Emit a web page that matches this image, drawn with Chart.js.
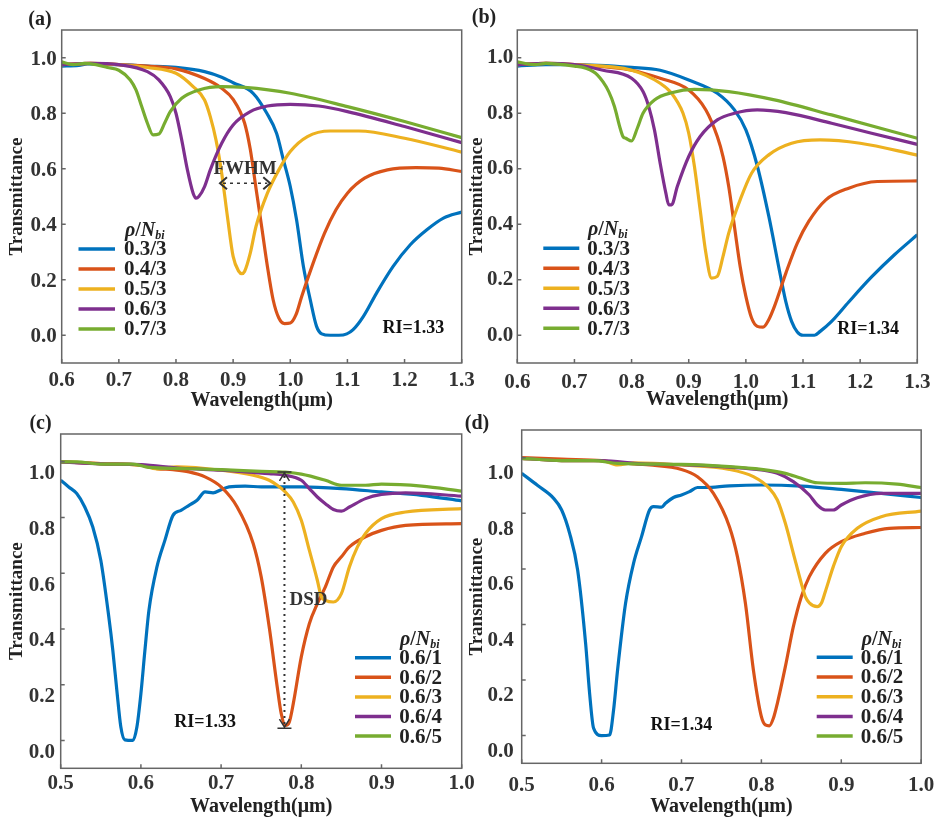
<!DOCTYPE html>
<html>
<head>
<meta charset="utf-8">
<script src="https://cdn.jsdelivr.net/npm/chart.js@4.4.0/dist/chart.umd.min.js"></script>
<style>
  html, body { margin: 0; padding: 0; background: #fff; }
  #wrap { position: relative; width: 944px; height: 824px; }
  #wrap canvas { position: absolute; left: 0; top: 0; }
</style>
</head>
<body>
<div id="wrap">
  <canvas id="chartA" width="944" height="824"></canvas>
  <canvas id="chartB" width="944" height="824"></canvas>
  <canvas id="chartC" width="944" height="824"></canvas>
  <canvas id="chartD" width="944" height="824"></canvas>
</div>
<script>
// ---- tick labels ----
const yTicks = [0.0, 0.2, 0.4, 0.6, 0.8, 1.0]
const xTicksTop = [0.6, 0.7, 0.8, 0.9, 1.0, 1.1, 1.2, 1.3]
const xTicksBottom = [0.5, 0.6, 0.7, 0.8, 0.9, 1.0]

// ---- series names ----
const labelsTop = ['0.3/3', '0.4/3', '0.5/3', '0.6/3', '0.7/3']
const labelsBottom = ['0.6/1', '0.6/2', '0.6/3', '0.6/4', '0.6/5']
const colors = ['#0072BD', '#D95319', '#EDB120', '#7E2F8E', '#77AC30']

// ---- (a) RI = 1.33 ----
const aBlueX = [0.60, 0.63, 0.645, 0.70, 0.75, 0.80, 0.85, 0.88, 0.90, 0.935, 0.959, 0.976, 0.988, 1.00, 1.011, 1.023, 1.035, 1.046, 1.055, 1.07, 1.085, 1.099, 1.11, 1.128, 1.151, 1.18, 1.21, 1.239, 1.268, 1.30]
const aBlueY = [0.97, 0.972, 0.978, 0.975, 0.97, 0.965, 0.95, 0.93, 0.91, 0.872, 0.80, 0.728, 0.632, 0.536, 0.416, 0.248, 0.128, 0.032, 0.005, 0.0, 0.0, 0.005, 0.02, 0.068, 0.152, 0.248, 0.326, 0.38, 0.422, 0.444]
const aOrangeX = [0.60, 0.65, 0.70, 0.75, 0.80, 0.85, 0.88, 0.90, 0.92, 0.93, 0.94, 0.95, 0.96, 0.97, 0.98, 0.99, 1.00, 1.01, 1.02, 1.04, 1.06, 1.08, 1.10, 1.13, 1.17, 1.22, 1.26, 1.30]
const aOrangeY = [0.975, 0.98, 0.975, 0.97, 0.96, 0.925, 0.89, 0.85, 0.765, 0.67, 0.53, 0.39, 0.248, 0.128, 0.062, 0.042, 0.044, 0.074, 0.14, 0.26, 0.368, 0.452, 0.512, 0.566, 0.596, 0.604, 0.602, 0.59]
const aYellowX = [0.60, 0.65, 0.70, 0.75, 0.80, 0.83, 0.85, 0.86, 0.87, 0.88, 0.89, 0.90, 0.91, 0.915, 0.92, 0.93, 0.94, 0.96, 0.98, 1.00, 1.03, 1.07, 1.12, 1.20, 1.30]
const aYellowY = [0.975, 0.98, 0.975, 0.965, 0.944, 0.896, 0.848, 0.788, 0.704, 0.584, 0.428, 0.284, 0.23, 0.222, 0.23, 0.296, 0.392, 0.512, 0.596, 0.662, 0.716, 0.736, 0.736, 0.71, 0.66]
const aPurpleX = [0.60, 0.65, 0.70, 0.75, 0.77, 0.79, 0.80, 0.81, 0.82, 0.83, 0.835, 0.84, 0.85, 0.86, 0.88, 0.90, 0.93, 0.96, 1.00, 1.05, 1.10, 1.20, 1.30]
const aPurpleY = [0.975, 0.98, 0.975, 0.95, 0.92, 0.86, 0.80, 0.704, 0.596, 0.512, 0.494, 0.50, 0.536, 0.596, 0.692, 0.758, 0.806, 0.826, 0.832, 0.826, 0.806, 0.752, 0.694]
const aGreenX = [0.60, 0.62, 0.64, 0.66, 0.68, 0.70, 0.72, 0.73, 0.74, 0.75, 0.76, 0.77, 0.78, 0.79, 0.81, 0.84, 0.88, 0.92, 1.00, 1.10, 1.20, 1.30]
const aGreenY = [0.985, 0.975, 0.98, 0.975, 0.965, 0.955, 0.92, 0.884, 0.824, 0.764, 0.722, 0.725, 0.764, 0.806, 0.854, 0.884, 0.896, 0.893, 0.872, 0.824, 0.77, 0.712]

// ---- (b) RI = 1.34 ----
const bBlueX = [0.60, 0.65, 0.70, 0.80, 0.85, 0.90, 0.95, 0.98, 1.00, 1.02, 1.04, 1.06, 1.07, 1.08, 1.09, 1.10, 1.12, 1.13, 1.15, 1.18, 1.22, 1.26, 1.30]
const bBlueY = [0.97, 0.975, 0.975, 0.965, 0.955, 0.92, 0.872, 0.812, 0.74, 0.61, 0.43, 0.22, 0.12, 0.05, 0.012, 0.0, 0.0, 0.014, 0.05, 0.12, 0.21, 0.29, 0.362]
const bOrangeX = [0.60, 0.65, 0.70, 0.80, 0.85, 0.90, 0.93, 0.95, 0.96, 0.97, 0.98, 0.99, 1.00, 1.01, 1.02, 1.03, 1.04, 1.05, 1.07, 1.09, 1.11, 1.14, 1.18, 1.23, 1.30]
const bOrangeY = [0.975, 0.98, 0.975, 0.955, 0.926, 0.884, 0.812, 0.716, 0.644, 0.536, 0.392, 0.248, 0.14, 0.062, 0.032, 0.029, 0.056, 0.104, 0.224, 0.332, 0.41, 0.488, 0.53, 0.554, 0.556]
const bYellowX = [0.60, 0.65, 0.70, 0.80, 0.85, 0.87, 0.89, 0.90, 0.91, 0.92, 0.93, 0.94, 0.95, 0.96, 0.97, 0.99, 1.01, 1.04, 1.08, 1.13, 1.20, 1.30]
const bYellowY = [0.975, 0.98, 0.975, 0.955, 0.908, 0.872, 0.80, 0.728, 0.608, 0.452, 0.296, 0.206, 0.212, 0.284, 0.368, 0.488, 0.584, 0.65, 0.692, 0.704, 0.692, 0.649]
const bPurpleX = [0.60, 0.65, 0.70, 0.75, 0.80, 0.82, 0.83, 0.84, 0.85, 0.86, 0.865, 0.87, 0.88, 0.90, 0.92, 0.95, 0.98, 1.02, 1.07, 1.15, 1.22, 1.30]
const bPurpleY = [0.975, 0.98, 0.975, 0.955, 0.926, 0.878, 0.824, 0.74, 0.62, 0.512, 0.47, 0.47, 0.536, 0.644, 0.716, 0.776, 0.80, 0.812, 0.802, 0.764, 0.728, 0.688]
const bGreenX = [0.60, 0.63, 0.65, 0.70, 0.72, 0.74, 0.76, 0.77, 0.78, 0.785, 0.79, 0.80, 0.81, 0.82, 0.84, 0.87, 0.91, 0.97, 1.05, 1.15, 1.30]
const bGreenY = [0.985, 0.975, 0.98, 0.97, 0.962, 0.938, 0.878, 0.824, 0.746, 0.716, 0.71, 0.70, 0.746, 0.80, 0.848, 0.874, 0.886, 0.878, 0.848, 0.794, 0.71]

// ---- (c) RI = 1.33 ----
const cBlueX = [0.50, 0.51, 0.52, 0.53, 0.54, 0.55, 0.56, 0.565, 0.57, 0.575, 0.58, 0.59, 0.595, 0.60, 0.605, 0.61, 0.62, 0.63, 0.64, 0.65, 0.66, 0.67, 0.68, 0.69, 0.70, 0.71, 0.73, 0.75, 0.80, 0.85, 0.90, 0.95, 1.00]
const cBlueY = [0.934, 0.91, 0.886, 0.838, 0.766, 0.647, 0.443, 0.323, 0.18, 0.048, 0.002, 0.0, 0.048, 0.168, 0.323, 0.467, 0.623, 0.719, 0.808, 0.826, 0.844, 0.862, 0.892, 0.889, 0.90, 0.91, 0.913, 0.91, 0.91, 0.904, 0.892, 0.88, 0.86]
const cOrangeX = [0.50, 0.55, 0.60, 0.62, 0.64, 0.66, 0.68, 0.70, 0.72, 0.74, 0.75, 0.76, 0.77, 0.775, 0.78, 0.785, 0.79, 0.80, 0.81, 0.82, 0.83, 0.84, 0.85, 0.86, 0.88, 0.90, 0.93, 1.00]
const cOrangeY = [1.0, 0.994, 0.988, 0.976, 0.972, 0.964, 0.946, 0.91, 0.838, 0.707, 0.587, 0.407, 0.192, 0.096, 0.054, 0.066, 0.132, 0.30, 0.419, 0.491, 0.551, 0.623, 0.659, 0.695, 0.731, 0.754, 0.772, 0.778]
const cYellowX = [0.50, 0.55, 0.60, 0.62, 0.645, 0.70, 0.74, 0.76, 0.77, 0.78, 0.79, 0.80, 0.81, 0.82, 0.825, 0.83, 0.84, 0.85, 0.86, 0.87, 0.88, 0.90, 0.93, 1.00]
const cYellowY = [1.0, 0.994, 0.988, 0.975, 0.982, 0.97, 0.952, 0.934, 0.916, 0.892, 0.856, 0.79, 0.683, 0.575, 0.515, 0.503, 0.497, 0.527, 0.623, 0.695, 0.743, 0.796, 0.82, 0.832]
const cPurpleX = [0.50, 0.55, 0.60, 0.65, 0.70, 0.74, 0.76, 0.78, 0.80, 0.81, 0.82, 0.83, 0.84, 0.85, 0.86, 0.88, 0.90, 0.93, 1.00]
const cPurpleY = [1.0, 0.993, 0.99, 0.977, 0.97, 0.962, 0.958, 0.952, 0.934, 0.904, 0.874, 0.85, 0.829, 0.823, 0.838, 0.868, 0.883, 0.889, 0.877]
const cGreenX = [0.50, 0.52, 0.55, 0.59, 0.61, 0.65, 0.70, 0.75, 0.78, 0.80, 0.83, 0.85, 0.88, 0.90, 0.95, 1.00]
const cGreenY = [1.0, 1.0, 0.992, 0.992, 0.98, 0.976, 0.972, 0.966, 0.963, 0.956, 0.934, 0.916, 0.916, 0.92, 0.913, 0.895]

// ---- (d) RI = 1.34 ----
const dBlueX = [0.50, 0.52, 0.54, 0.55, 0.56, 0.57, 0.58, 0.585, 0.59, 0.60, 0.61, 0.615, 0.62, 0.63, 0.64, 0.65, 0.66, 0.665, 0.675, 0.68, 0.69, 0.70, 0.71, 0.72, 0.73, 0.76, 0.80, 0.85, 0.90, 0.95, 1.00]
const dBlueY = [0.944, 0.90, 0.854, 0.812, 0.728, 0.596, 0.332, 0.152, 0.026, 0.0, 0.002, 0.092, 0.236, 0.476, 0.62, 0.716, 0.812, 0.824, 0.822, 0.836, 0.857, 0.866, 0.878, 0.893, 0.893, 0.899, 0.902, 0.898, 0.886, 0.872, 0.857]
const dOrangeX = [0.50, 0.55, 0.60, 0.62, 0.66, 0.70, 0.72, 0.74, 0.76, 0.77, 0.78, 0.79, 0.80, 0.805, 0.81, 0.815, 0.82, 0.83, 0.84, 0.85, 0.86, 0.88, 0.90, 0.93, 0.96, 1.00]
const dOrangeY = [1.001, 0.995, 0.99, 0.982, 0.974, 0.958, 0.932, 0.872, 0.752, 0.644, 0.476, 0.236, 0.068, 0.038, 0.035, 0.062, 0.116, 0.248, 0.392, 0.50, 0.572, 0.656, 0.698, 0.728, 0.746, 0.749]
const dYellowX = [0.50, 0.55, 0.60, 0.62, 0.64, 0.70, 0.76, 0.79, 0.81, 0.82, 0.83, 0.84, 0.85, 0.855, 0.86, 0.87, 0.875, 0.88, 0.89, 0.90, 0.92, 0.95, 1.00]
const dYellowY = [0.998, 0.99, 0.99, 0.974, 0.982, 0.974, 0.958, 0.932, 0.89, 0.848, 0.764, 0.656, 0.548, 0.50, 0.478, 0.464, 0.476, 0.518, 0.608, 0.68, 0.746, 0.788, 0.808]
const dPurpleX = [0.50, 0.55, 0.60, 0.65, 0.70, 0.76, 0.80, 0.82, 0.84, 0.86, 0.87, 0.88, 0.89, 0.90, 0.92, 0.95, 1.00]
const dPurpleY = [0.998, 0.99, 0.99, 0.978, 0.975, 0.966, 0.956, 0.944, 0.914, 0.866, 0.83, 0.812, 0.812, 0.83, 0.856, 0.872, 0.872]
const dGreenX = [0.50, 0.55, 0.59, 0.62, 0.70, 0.76, 0.80, 0.83, 0.85, 0.87, 0.90, 0.93, 0.97, 1.00]
const dGreenY = [0.998, 0.99, 0.99, 0.98, 0.976, 0.968, 0.958, 0.944, 0.926, 0.91, 0.908, 0.91, 0.905, 0.893]

const SERIF = '"Liberation Serif", "DejaVu Serif", serif'

const toPoints = (xs, ys) => xs.map((x, i) => ({ x: x, y: ys[i] }))

// frame, inward ticks, panel tag, legend and annotations
const panelDecor = {
    id: 'panelDecor',
    afterDatasetsDraw(chart, args, opts) {
        const { ctx, chartArea: a } = chart
        const xs = chart.scales.x
        const ys = chart.scales.y
        ctx.save()

        ctx.strokeStyle = '#666'
        ctx.lineWidth = 1.5
        ctx.strokeRect(a.left, a.top, a.right - a.left, a.bottom - a.top)
        ctx.beginPath()
        xs.ticks.forEach(t => {
            const px = xs.getPixelForValue(t.value)
            ctx.moveTo(px, a.bottom)
            ctx.lineTo(px, a.bottom - 4)
        })
        ys.ticks.forEach(t => {
            const py = ys.getPixelForValue(t.value)
            ctx.moveTo(a.left, py)
            ctx.lineTo(a.left + 4, py)
        })
        ctx.stroke()

        ctx.textBaseline = 'middle'
        ctx.fillStyle = '#222'

        // panel tag
        ctx.textAlign = 'center'
        ctx.font = `bold 20px ${SERIF}`
        ctx.fillText(opts.tag.text, opts.tag.x, opts.tag.y)

        // legend
        const lg = opts.legend
        ctx.textAlign = 'left'
        let tx = lg.titleX
        const part = (txt, font, dy) => {
            ctx.font = font
            ctx.fillText(txt, tx, lg.titleY + dy)
            tx += ctx.measureText(txt).width
        }
        part('ρ', `italic bold 20px ${SERIF}`, 0)
        part('/', `bold 20px ${SERIF}`, 0)
        part('N', `italic bold 20px ${SERIF}`, 0)
        part('bi', `italic bold 12px ${SERIF}`, 5)

        chart.data.datasets.forEach((ds, i) => {
            const yy = lg.rowY + i * lg.rowH
            ctx.strokeStyle = ds.borderColor
            ctx.lineWidth = 3.5
            ctx.beginPath()
            ctx.moveTo(lg.lineX, yy)
            ctx.lineTo(lg.lineX + lg.lineLen, yy)
            ctx.stroke()
            ctx.fillStyle = '#222'
            ctx.font = `bold 21px ${SERIF}`
            ctx.fillText(ds.label, lg.textX, yy + 1)
        })

        // annotations
        ;(opts.notes || []).forEach(n => {
            if (n.type === 'text') {
                ctx.fillStyle = n.color
                ctx.font = `bold ${n.size}px ${SERIF}`
                ctx.textAlign = 'center'
                ctx.fillText(n.text, xs.getPixelForValue(n.x), ys.getPixelForValue(n.y))
            } else if (n.type === 'hArrow') {
                const x1 = xs.getPixelForValue(n.x1)
                const x2 = xs.getPixelForValue(n.x2)
                const py = ys.getPixelForValue(n.y)
                ctx.strokeStyle = '#333'
                ctx.lineWidth = 1.5
                ctx.setLineDash([3, 4])
                ctx.beginPath()
                ctx.moveTo(x1 + 3, py)
                ctx.lineTo(x2 - 3, py)
                ctx.stroke()
                ctx.setLineDash([])
                ctx.lineWidth = 2
                ctx.beginPath()
                ctx.moveTo(x1 + 7, py - 6); ctx.lineTo(x1, py); ctx.lineTo(x1 + 7, py + 6)
                ctx.moveTo(x2 - 7, py - 6); ctx.lineTo(x2, py); ctx.lineTo(x2 - 7, py + 6)
                ctx.stroke()
            } else if (n.type === 'vBar') {
                const px = xs.getPixelForValue(n.x)
                const y1 = ys.getPixelForValue(n.y1)
                const y2 = ys.getPixelForValue(n.y2)
                ctx.strokeStyle = '#333'
                ctx.lineWidth = 2
                ctx.setLineDash([2, 4])
                ctx.beginPath()
                ctx.moveTo(px, y1 + 4)
                ctx.lineTo(px, y2 - 4)
                ctx.stroke()
                ctx.setLineDash([])
                ctx.lineWidth = 1.5
                ctx.beginPath()
                ctx.moveTo(px - 7, y1); ctx.lineTo(px + 7, y1)
                ctx.moveTo(px - 7, y2); ctx.lineTo(px + 7, y2)
                ctx.moveTo(px - 5, y1 + 9); ctx.lineTo(px, y1 + 1); ctx.lineTo(px + 5, y1 + 9)
                ctx.moveTo(px - 5, y2 - 9); ctx.lineTo(px, y2 - 1); ctx.lineTo(px + 5, y2 - 9)
                ctx.stroke()
            }
        })
        ctx.restore()
    }
}

const makePanel = (canvasId, cfg) => {
    const yTitleHalf = 19 * 1.2 / 2
    const xTitleHalf = 20 * 1.2 / 2
    const padLeft = cfg.yTitleX - yTitleHalf
    const padBottom = 824 - (cfg.xTitleY + xTitleHalf)
    const datasets = cfg.series.map((s, i) => ({
        label: cfg.labels[i],
        data: toPoints(s[0], s[1]),
        borderColor: colors[i],
        borderWidth: 3.2,
        pointRadius: 0,
        fill: false,
        cubicInterpolationMode: 'monotone',
        order: cfg.series.length - i
    }))
    new Chart(document.getElementById(canvasId), {
        type: 'line',
        data: { datasets: datasets },
        plugins: [panelDecor],
        options: {
            responsive: false,
            animation: false,
            events: [],
            layout: {
                padding: {
                    left: padLeft,
                    top: cfg.area.top,
                    right: 944 - cfg.area.right,
                    bottom: padBottom
                }
            },
            scales: {
                x: {
                    type: 'linear',
                    min: cfg.xTicks[0],
                    max: cfg.xTicks[cfg.xTicks.length - 1],
                    afterBuildTicks: s => { s.ticks = cfg.xTicks.map(v => ({ value: v })) },
                    afterFit: s => { s.height = cfg.xTitleY + xTitleHalf - cfg.area.bottom },
                    grid: { display: false, drawTicks: false },
                    border: { display: false },
                    ticks: {
                        autoSkip: false,
                        maxRotation: 0,
                        padding: cfg.xPad,
                        color: '#333',
                        font: { family: SERIF, size: 21, weight: 'bold' },
                        callback: v => v.toFixed(1)
                    },
                    title: {
                        display: true,
                        text: 'Wavelength(μm)',
                        padding: 0,
                        color: '#222',
                        font: { family: SERIF, size: 20, weight: 'bold' }
                    }
                },
                y: {
                    type: 'linear',
                    min: -0.1,
                    max: 1.1,
                    afterBuildTicks: s => { s.ticks = yTicks.map(v => ({ value: v })) },
                    afterFit: s => { s.width = cfg.area.left - padLeft },
                    grid: { display: false, drawTicks: false },
                    border: { display: false },
                    ticks: {
                        padding: cfg.yPad,
                        labelOffset: cfg.yLabelOffset,
                        color: '#333',
                        font: { family: SERIF, size: 21, weight: 'bold' },
                        callback: v => v.toFixed(1)
                    },
                    title: {
                        display: true,
                        text: 'Transmittance',
                        padding: 0,
                        color: '#222',
                        font: { family: SERIF, size: 19, weight: 'bold' }
                    }
                }
            },
            plugins: {
                legend: { display: false },
                tooltip: { enabled: false },
                panelDecor: {
                    tag: cfg.tag,
                    legend: cfg.legend,
                    notes: cfg.notes
                }
            }
        }
    })
}

makePanel('chartA', {
    area: { left: 61.7, top: 30, right: 461.7, bottom: 363 },
    yTitleX: 17.3, xTitleY: 401, xPad: 5, yPad: 5, yLabelOffset: 1.5,
    xTicks: xTicksTop, labels: labelsTop,
    series: [[aBlueX, aBlueY], [aOrangeX, aOrangeY], [aYellowX, aYellowY], [aPurpleX, aPurpleY], [aGreenX, aGreenY]],
    tag: { text: '(a)', x: 40, y: 20 },
    legend: { titleX: 125, titleY: 231, lineX: 78.5, lineLen: 36.5, textX: 124, rowY: 249, rowH: 20 },
    notes: [
        { type: 'text', x: 0.921, y: 0.598, text: 'FWHM', size: 19, color: '#333' },
        { type: 'hArrow', x1: 0.877, x2: 0.965, y: 0.548 },
        { type: 'text', x: 1.2155, y: 0.024, text: 'RI=1.33', size: 18, color: '#111' }
    ]
})

makePanel('chartB', {
    area: { left: 517.3, top: 30, right: 917.3, bottom: 363 },
    yTitleX: 477.3, xTitleY: 400, xPad: 6.7, yPad: 4, yLabelOffset: 0,
    xTicks: xTicksTop, labels: labelsTop,
    series: [[bBlueX, bBlueY], [bOrangeX, bOrangeY], [bYellowX, bYellowY], [bPurpleX, bPurpleY], [bGreenX, bGreenY]],
    tag: { text: '(b)', x: 484, y: 18 },
    legend: { titleX: 588, titleY: 230, lineX: 543.3, lineLen: 36, textX: 587.3, rowY: 248.3, rowH: 20 },
    notes: [
        { type: 'text', x: 1.214, y: 0.023, text: 'RI=1.34', size: 18, color: '#111' }
    ]
})

makePanel('chartC', {
    area: { left: 60.7, top: 434, right: 461.7, bottom: 768.3 },
    yTitleX: 17.3, xTitleY: 806.7, xPad: 3, yPad: 5.7, yLabelOffset: 12,
    xTicks: xTicksBottom, labels: labelsBottom,
    series: [[cBlueX, cBlueY], [cOrangeX, cOrangeY], [cYellowX, cYellowY], [cPurpleX, cPurpleY], [cGreenX, cGreenY]],
    tag: { text: '(c)', x: 40.5, y: 424 },
    legend: { titleX: 400, titleY: 640, lineX: 355, lineLen: 36, textX: 399.3, rowY: 657.7, rowH: 19.6 },
    notes: [
        { type: 'vBar', x: 0.779, y1: 0.964, y2: 0.044 },
        { type: 'text', x: 0.809, y: 0.503, text: 'DSD', size: 19, color: '#333' },
        { type: 'text', x: 0.68, y: 0.066, text: 'RI=1.33', size: 18, color: '#111' }
    ]
})

makePanel('chartD', {
    area: { left: 521.7, top: 430, right: 922.7, bottom: 763.3 },
    yTitleX: 477.3, xTitleY: 806.7, xPad: 9.7, yPad: 8, yLabelOffset: 16,
    xTicks: xTicksBottom, labels: labelsBottom,
    series: [[dBlueX, dBlueY], [dOrangeX, dOrangeY], [dYellowX, dYellowY], [dPurpleX, dPurpleY], [dGreenX, dGreenY]],
    tag: { text: '(d)', x: 477, y: 424 },
    legend: { titleX: 861.7, titleY: 640, lineX: 816.7, lineLen: 36, textX: 860.7, rowY: 657.3, rowH: 19.7 },
    notes: [
        { type: 'text', x: 0.70, y: 0.038, text: 'RI=1.34', size: 18, color: '#111' }
    ]
})
</script>
</body>
</html>
